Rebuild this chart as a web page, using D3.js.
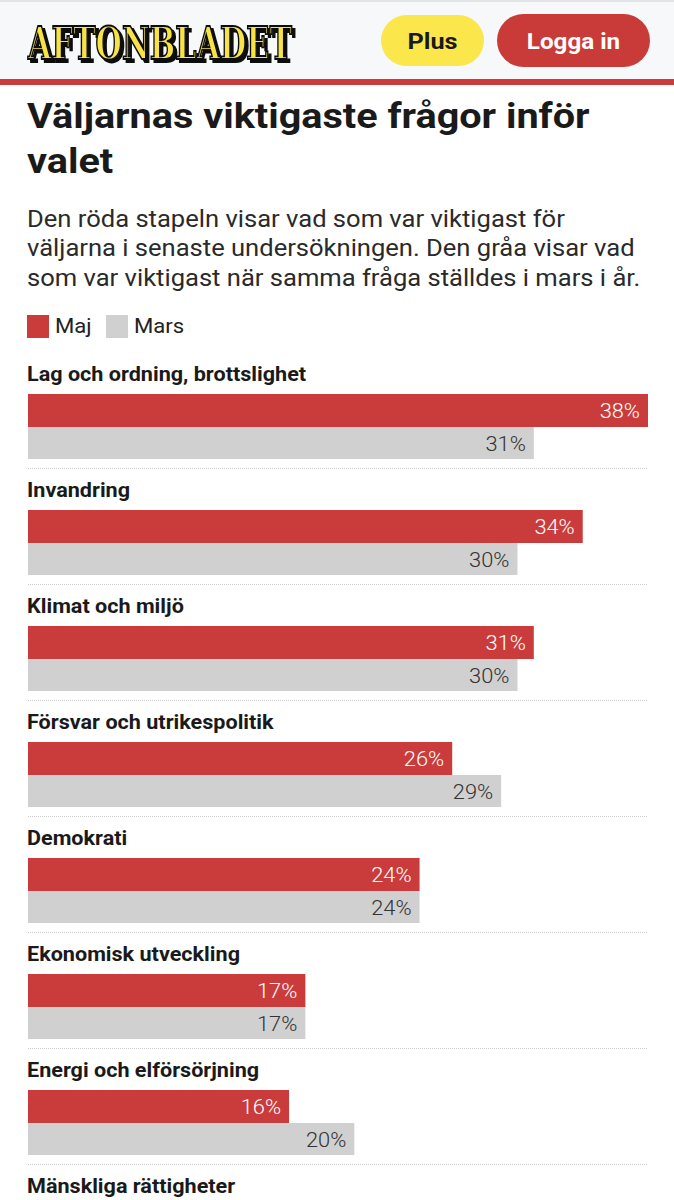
<!DOCTYPE html>
<html><head><meta charset="utf-8">
<script src="https://cdn.jsdelivr.net/npm/d3@7"></script>
<style>html,body{margin:0;padding:0;background:#fff;}svg{display:block;}</style>
</head><body>
<script>
const categories = ["Lag och ordning, brottslighet","Invandring","Klimat och miljö","Försvar och utrikespolitik","Demokrati","Ekonomisk utveckling","Energi och elförsörjning","Mänskliga rättigheter"];
const maj =  [38,34,31,26,24,17,16,null];
const mars = [31,30,30,29,24,17,20,null];
const seriesNames = ["Maj","Mars"];
const colors = ["#c93c3b","#d0d0d0"];
const titleLines = ["Väljarnas viktigaste frågor inför","valet"];
const subtitleLines = ["Den röda stapeln visar vad som var viktigast för","väljarna i senaste undersökningen. Den gråa visar vad","som var viktigast när samma fråga ställdes i mars i år."];

const W = 674, H = 1200;
const svg = d3.select("body").append("svg").attr("width", W).attr("height", H)
  .style("font-family", "Roboto, 'Noto Sans', sans-serif");

function txt(parent, x, y, sx, s) {
  return parent.append("text").attr("transform", `translate(${x},${y}) scale(${sx},1)`).text(s);
}

const defs = svg.append("defs");
const f = defs.append("filter").attr("id","shadow").attr("x","-5%").attr("y","-20%").attr("width","115%").attr("height","150%");
f.append("feDropShadow").attr("dx",3).attr("dy",3).attr("stdDeviation",0).attr("flood-color","#111").attr("flood-opacity",1);

// header
svg.append("rect").attr("x",0).attr("y",0).attr("width",W).attr("height",80).attr("fill","#f7f8fa");
svg.append("rect").attr("x",0).attr("y",0).attr("width",W).attr("height",2).attr("fill","#e2e4e8");
svg.append("rect").attr("x",0).attr("y",79).attr("width",W).attr("height",6).attr("fill","#c93c3b");
svg.append("text").attr("x",28).attr("y",59).attr("textLength",264).attr("lengthAdjust","spacingAndGlyphs")
  .style("font-family","'DejaVu Serif Condensed','DejaVu Serif',serif").style("font-weight","bold")
  .attr("font-size",44).attr("fill","#f8e347").attr("stroke","#111").attr("stroke-width",1.8)
  .attr("filter","url(#shadow)").text("AFTONBLADET");
svg.append("rect").attr("x",381).attr("y",15).attr("width",103).attr("height",51).attr("rx",25.5).attr("fill","#fbe64c");
txt(svg,432.5,48.5,1.15,"Plus").attr("text-anchor","middle").attr("font-size",22).attr("font-weight",700).attr("fill","#1a1a1a");
svg.append("rect").attr("x",497).attr("y",14).attr("width",153).attr("height",53).attr("rx",26.5).attr("fill","#c93b38");
txt(svg,573.5,48.5,1.1,"Logga in").attr("text-anchor","middle").attr("font-size",22).attr("font-weight",700).attr("fill","#fff");

// title
titleLines.forEach((d,i)=>txt(svg,27,127.5+i*45.5,1.10,d).attr("font-size",36).attr("font-weight",700).attr("fill","#1a1a1a"));
subtitleLines.forEach((d,i)=>txt(svg,27,226.5+i*29.7,1.065,d).attr("font-size",24).attr("fill","#2a2a2a"));

// legend
const legX = [27,106];
seriesNames.forEach((n,i)=>{
  svg.append("rect").attr("x",legX[i]).attr("y",315).attr("width",22).attr("height",23).attr("fill",colors[i]);
  txt(svg,legX[i]+28,333,1.08,n).attr("font-size",20.5).attr("fill","#222");
});

// chart
const x = d3.scaleLinear().domain([0,38]).range([28,648]);
const y = d3.scaleBand().domain(categories).range([357, 357+116*categories.length]).paddingInner(0).paddingOuter(0);
const groups = svg.append("g").selectAll("g.grp").data(categories.map((c,i)=>({c, v:[maj[i],mars[i]]}))).join("g").attr("class","grp")
  .attr("transform",d=>`translate(0,${y(d.c)})`);
groups.append("text").attr("transform","translate(27,24) scale(1.08,1)").attr("font-size",20).attr("font-weight",700).attr("fill","#1a1a1a").text(d=>d.c);
const barY = [37,70], barH = [33,32];
[0,1].forEach(s=>{
  const sel = groups.filter(d=>d.v[s]!=null);
  sel.append("rect").attr("x",x(0)).attr("y",barY[s]).attr("width",d=>x(d.v[s])-x(0)).attr("height",barH[s]).attr("fill",colors[s]);
  sel.append("text").attr("transform",d=>`translate(${x(d.v[s])-8},${barY[s]+24}) scale(1.12,1)`).attr("text-anchor","end").attr("font-size",19.5)
    .attr("font-weight",300).attr("fill",s===0?"#fff":"#333").text(d=>d.v[s]+"%");
});
groups.filter(d=>d.v[0]!=null).append("line").attr("x1",28).attr("x2",648).attr("y1",111.5).attr("y2",111.5)
  .attr("stroke","#cfcfcf").attr("stroke-width",1).attr("stroke-dasharray","1,1");
</script>
</body></html>
